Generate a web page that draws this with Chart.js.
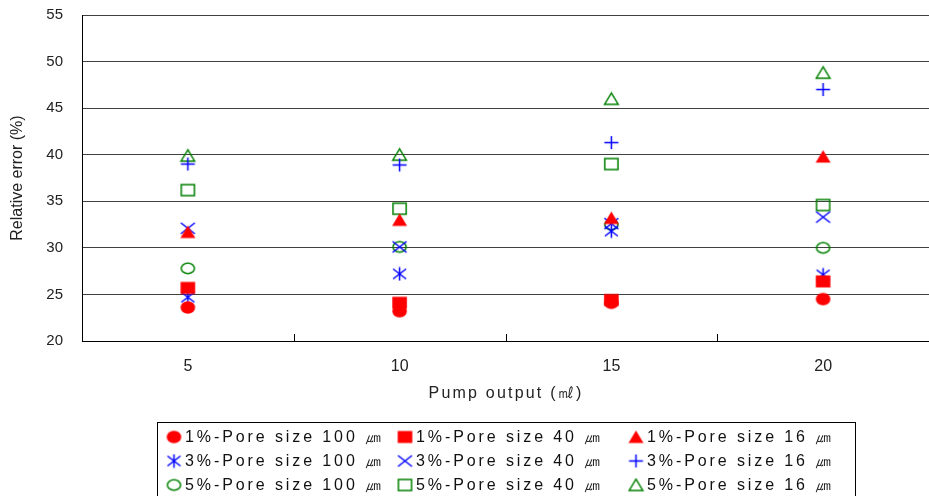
<!DOCTYPE html>
<html>
<head>
<meta charset="utf-8">
<script src="https://cdn.jsdelivr.net/npm/chart.js@4.4.1/dist/chart.umd.min.js"></script>
<style>
  html, body { margin: 0; padding: 0; background: #fff; }
  #wrap { width: 929px; height: 496px; position: relative; }
</style>
</head>
<body>
<div id="wrap"><canvas id="c" width="929" height="496"></canvas></div>
<script>
// Pump output categories (ml) and y-axis range
const categories = ['5', '10', '15', '20'];
const yMin = 20, yMax = 55, yStep = 5;

const xTitle = 'Pump output (㎖)';
const yTitle = 'Relative error (%)';

// Series labels
const seriesLabels = [
  '1%-Pore size 100 ㎛', '1%-Pore size 40 ㎛', '1%-Pore size 16 ㎛',
  '3%-Pore size 100 ㎛', '3%-Pore size 40 ㎛', '3%-Pore size 16 ㎛',
  '5%-Pore size 100 ㎛', '5%-Pore size 40 ㎛', '5%-Pore size 16 ㎛'
];

// Relative error (%) per pump output
const c1_p100 = [23.6, 23.2, 24.1, 24.5];
const c1_p40  = [25.7, 24.1, 24.4, 26.4];
const c1_p16  = [31.7, 33.0, 33.2, 39.8];
const c3_p100 = [24.7, 27.2, 31.8, 27.1];
const c3_p40  = [32.1, 30.1, 32.6, 33.3];
const c3_p16  = [39.0, 38.9, 41.3, 47.0];
const c5_p100 = [27.8, 30.1, 32.5, 30.0];
const c5_p40  = [36.2, 34.2, 39.0, 34.6];
const c5_p16  = [39.9, 40.0, 46.0, 48.8];

const FONT = '"Liberation Sans", Arial, sans-serif';
const RED = '#ff0000', BLUE = '#0000ff', GREEN = '#008000';

// Small canvas markers (slightly wider than tall)
function marker(kind, color, filled) {
  const cv = document.createElement('canvas');
  cv.width = 17; cv.height = 15;
  const g = cv.getContext('2d');
  const cx = 8.5, cy = 7.5;
  g.strokeStyle = color; g.fillStyle = color; g.lineWidth = 1.5;
  g.beginPath();
  if (kind === 'circle') {
    if (filled) g.ellipse(cx, cy, 7.3, 6.2, 0, 0, Math.PI * 2);
    else g.ellipse(cx, cy, 6.6, 5.2, 0, 0, Math.PI * 2);
  } else if (kind === 'square') {
    if (filled) g.rect(cx - 7.3, cy - 6, 14.6, 12);
    else g.rect(cx - 6.6, cy - 5.4, 13.2, 10.8);
  } else if (kind === 'triangle') {
    if (filled) { g.moveTo(cx, cy - 6.5); g.lineTo(cx + 7.5, cy + 6); g.lineTo(cx - 7.5, cy + 6); }
    else { g.moveTo(cx, cy - 5.8); g.lineTo(cx + 6.8, cy + 5.4); g.lineTo(cx - 6.8, cy + 5.4); }
    g.closePath();
  } else if (kind === 'x') {
    g.moveTo(cx - 7, cy - 5.5); g.lineTo(cx + 7, cy + 5.5);
    g.moveTo(cx - 7, cy + 5.5); g.lineTo(cx + 7, cy - 5.5);
  } else if (kind === 'plus') {
    g.moveTo(cx - 7, cy); g.lineTo(cx + 7, cy);
    g.moveTo(cx, cy - 6.5); g.lineTo(cx, cy + 6.5);
  } else if (kind === 'asterisk') {
    g.moveTo(cx, cy - 6.8); g.lineTo(cx, cy + 6.8);
    g.moveTo(cx - 6.5, cy - 5); g.lineTo(cx + 6.5, cy + 5);
    g.moveTo(cx - 6.5, cy + 5); g.lineTo(cx + 6.5, cy - 5);
  }
  if (filled) g.fill(); else g.stroke();
  return cv;
}

const seriesValues = [c1_p100, c1_p40, c1_p16, c3_p100, c3_p40, c3_p16, c5_p100, c5_p40, c5_p16];
const markers = [
  marker('circle', RED, true), marker('square', RED, true), marker('triangle', RED, true),
  marker('asterisk', BLUE, false), marker('x', BLUE, false), marker('plus', BLUE, false),
  marker('circle', GREEN, false), marker('square', GREEN, false), marker('triangle', GREEN, false)
];
const colors = [RED, RED, RED, BLUE, BLUE, BLUE, GREEN, GREEN, GREEN];

const datasets = seriesValues.map((vals, i) => ({
  label: seriesLabels[i],
  data: vals,
  showLine: false,
  borderColor: colors[i],
  backgroundColor: colors[i],
  pointStyle: markers[i],
  pointRadius: 8,
  pointHoverRadius: 8
}));

// Short tick marks between categories, pointing up into the plot
const innerTicks = {
  id: 'innerTicks',
  afterDraw(chart) {
    const xs = chart.scales.x, ctx = chart.ctx;
    const b = chart.chartArea.bottom;
    ctx.save();
    ctx.strokeStyle = '#000';
    ctx.lineWidth = 1;
    for (let i = 0; i < categories.length - 1; i++) {
      const x = Math.round((xs.getPixelForValue(i) + xs.getPixelForValue(i + 1)) / 2) + 0.5;
      ctx.beginPath(); ctx.moveTo(x, b); ctx.lineTo(x, b - 7); ctx.stroke();
    }
    ctx.restore();
  }
};

// X-axis title with wide letter spacing
const xTitlePlugin = {
  id: 'xTitleSpaced',
  afterDraw(chart) {
    const ctx = chart.ctx;
    ctx.save();
    ctx.font = '16px ' + FONT;
    ctx.fillStyle = '#222';
    ctx.textAlign = 'center';
    ctx.textBaseline = 'middle';
    if ('letterSpacing' in ctx) ctx.letterSpacing = '2.2px';
    ctx.fillText(xTitle, 506, 394);
    ctx.restore();
  }
};

// Boxed three-column legend below the axis
const gridLegend = {
  id: 'gridLegend',
  afterDraw(chart) {
    const ctx = chart.ctx;
    const box = { left: 157.5, top: 422.5, right: 855.5, bottom: 520 };
    const colX = [174, 405, 636];
    const rowY = [437, 461, 485];
    ctx.save();
    ctx.strokeStyle = '#000';
    ctx.lineWidth = 1;
    ctx.strokeRect(box.left, box.top, box.right - box.left, box.bottom - box.top);
    ctx.font = '16px ' + FONT;
    ctx.fillStyle = '#111';
    ctx.textAlign = 'left';
    ctx.textBaseline = 'middle';
    if ('letterSpacing' in ctx) ctx.letterSpacing = '2.9px';
    chart.data.datasets.forEach((ds, i) => {
      const cx = colX[i % 3], cy = rowY[Math.floor(i / 3)];
      const img = ds.pointStyle;
      ctx.drawImage(img, cx - img.width / 2, cy - img.height / 2);
      ctx.fillText(ds.label, cx + 11, cy + 1);
    });
    ctx.restore();
  }
};

new Chart(document.getElementById('c'), {
  type: 'line',
  data: { labels: categories, datasets },
  options: {
    responsive: false,
    animation: false,
    devicePixelRatio: 1,
    layout: { autoPadding: false, padding: { top: 15, right: -4, bottom: 95, left: 0 } },
    plugins: { legend: { display: false }, tooltip: { enabled: false } },
    scales: {
      x: {
        type: 'category',
        offset: true,
        afterFit(s) { s.height = 60; s.paddingLeft = 0; s.paddingRight = 0; },
        grid: { display: true, drawOnChartArea: false, drawTicks: false, offset: true },
        border: { display: true, color: '#000', width: 1 },
        ticks: { padding: 16, color: '#222', font: { family: FONT, size: 16 } },
        title: { display: false }
      },
      y: {
        min: yMin, max: yMax,
        afterFit(s) { s.width = 82; s.paddingTop = 0; s.paddingBottom = 0; },
        ticks: { stepSize: yStep, padding: 19, color: '#222', font: { family: FONT, size: 15 } },
        grid: { color: '#404040', lineWidth: 1, drawTicks: false },
        border: { display: true, color: '#000', width: 1 },
        title: {
          display: true, text: yTitle, color: '#222',
          font: { family: FONT, size: 16 }, padding: { top: 8, bottom: 0 }
        }
      }
    }
  },
  plugins: [innerTicks, xTitlePlugin, gridLegend]
});
</script>
</body>
</html>
